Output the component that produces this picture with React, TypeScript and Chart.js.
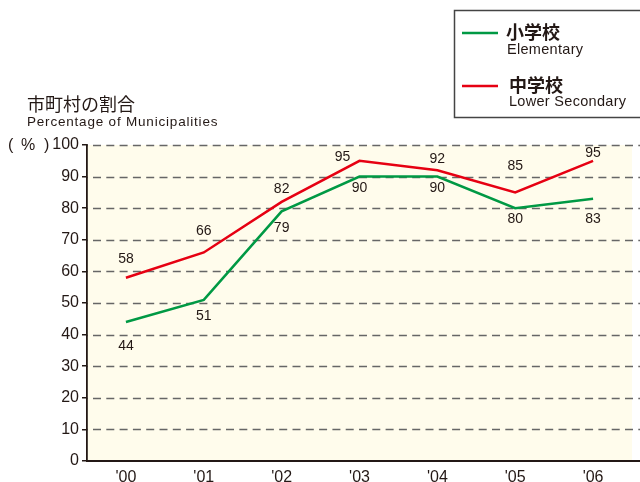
import React, { useEffect, useRef } from "react";
import { Chart, registerables } from "chart.js";

Chart.register(...registerables);

const categories = ["'00", "'01", "'02", "'03", "'04", "'05", "'06"];
const elementary = [44, 51, 79, 90, 90, 80, 83];
const lowerSecondary = [58, 66, 82, 95, 92, 85, 95];
const yTicks = [0, 10, 20, 30, 40, 50, 60, 70, 80, 90, 100];

// label offsets (styling, px relative to each point)
const elemLabelDy = [24, 16, 17, 12, 12, 11, 20];
const secLabelDy = [-19, -21, -13, -4, -11, -26, -8];
const secLabelDx = [0, 0, 0, -17, 0, 0, 0];

const GREEN = "#009944";
const RED = "#e60012";
const INK = "#231815";
const SANS = "'Liberation Sans', Arial, sans-serif";
const CJK = "'Noto Sans CJK JP', sans-serif";

const decorPlugin = {
  id: "decor",
  beforeDraw(chart: any) {
    const { ctx, chartArea } = chart;
    const y = chart.scales.y;
    ctx.save();
    ctx.fillStyle = "#fffcec";
    ctx.fillRect(chartArea.left, chartArea.top, chartArea.right - chartArea.left, chartArea.bottom - chartArea.top);
    // dashed grid lines
    ctx.strokeStyle = "#666";
    ctx.lineWidth = 1.5;
    ctx.setLineDash([8, 5.3]);
    ctx.lineDashOffset = 7.3;
    yTicks.forEach((v) => {
      if (v === 0) return;
      const py = Math.round(y.getPixelForValue(v)) + 0.5;
      ctx.beginPath();
      ctx.moveTo(chartArea.left, py);
      ctx.lineTo(640, py);
      ctx.stroke();
    });
    ctx.setLineDash([]);
    // bottom axis
    ctx.strokeStyle = INK;
    ctx.lineWidth = 1.8;
    ctx.beginPath();
    const by = y.getPixelForValue(0);
    ctx.moveTo(chartArea.left - 1, by);
    ctx.lineTo(640, by);
    ctx.stroke();
    ctx.restore();
  },
  afterDraw(chart: any) {
    const { ctx } = chart;
    const x = chart.scales.x;
    const y = chart.scales.y;
    ctx.save();
    // data labels
    ctx.fillStyle = INK;
    ctx.font = `14px ${SANS}`;
    ctx.textAlign = "center";
    ctx.textBaseline = "middle";
    elementary.forEach((v, i) => {
      ctx.fillText(String(v), x.getPixelForValue(i), y.getPixelForValue(v) + elemLabelDy[i]);
    });
    lowerSecondary.forEach((v, i) => {
      ctx.fillText(String(v), x.getPixelForValue(i) + secLabelDx[i], y.getPixelForValue(v) + secLabelDy[i]);
    });
    // "( % )" unit
    ctx.font = `16px ${SANS}`;
    ctx.textAlign = "left";
    const uy = y.getPixelForValue(100) + 1;
    ctx.fillText("(", 8, uy);
    ctx.fillText("%", 21, uy);
    ctx.fillText(")", 44, uy);
    // titles
    ctx.font = `18px ${CJK}`;
    ctx.fillText("市町村の割合", 27, 104);
    ctx.font = `13.5px ${SANS}`;
    (ctx as any).letterSpacing = "0.8px";
    ctx.fillText("Percentage of Municipalities", 27, 122);
    (ctx as any).letterSpacing = "0px";
    // legend box
    ctx.fillStyle = "#fff";
    ctx.fillRect(454, 10, 200, 107);
    ctx.strokeStyle = "#444";
    ctx.lineWidth = 1.5;
    ctx.strokeRect(454.5, 10.5, 200, 107);
    ctx.lineWidth = 2.5;
    ctx.strokeStyle = GREEN;
    ctx.beginPath();
    ctx.moveTo(462, 33);
    ctx.lineTo(498, 33);
    ctx.stroke();
    ctx.strokeStyle = RED;
    ctx.beginPath();
    ctx.moveTo(462, 86);
    ctx.lineTo(498, 86);
    ctx.stroke();
    ctx.fillStyle = INK;
    ctx.font = `bold 18px ${CJK}`;
    ctx.fillText("小学校", 506, 32);
    ctx.fillText("中学校", 509, 85);
    ctx.font = `14.5px ${SANS}`;
    (ctx as any).letterSpacing = "0.3px";
    ctx.fillText("Elementary", 507, 50);
    ctx.fillText("Lower Secondary", 509, 102);
    (ctx as any).letterSpacing = "0px";
    ctx.restore();
  },
};

export default function App() {
  const ref = useRef<HTMLCanvasElement>(null);
  useEffect(() => {
    if (!ref.current) return;
    const chart = new Chart(ref.current, {
      type: "line",
      data: {
        labels: categories,
        datasets: [
          {
            label: "小学校 Elementary",
            data: elementary,
            borderColor: GREEN,
            borderWidth: 2.5,
            pointRadius: 0,
            tension: 0,
          },
          {
            label: "中学校 Lower Secondary",
            data: lowerSecondary,
            borderColor: RED,
            borderWidth: 2.5,
            pointRadius: 0,
            tension: 0,
          },
        ],
      },
      options: {
        responsive: false,
        animation: false,
        devicePixelRatio: 1,
        layout: { padding: { top: 145, right: 8, left: 0, bottom: 0 } },
        plugins: { legend: { display: false }, tooltip: { enabled: false }, title: { display: false } },
        scales: {
          x: {
            type: "category",
            offset: true,
            grid: { display: false, drawTicks: false },
            border: { display: false },
            ticks: { color: INK, font: { size: 16, family: SANS }, padding: 7, maxRotation: 0 },
            afterFit: (s: any) => {
              s.height = 21;
            },
          },
          y: {
            min: 0,
            max: 100,
            ticks: { stepSize: 10, color: INK, font: { size: 16, family: SANS }, padding: 3 },
            grid: { drawOnChartArea: false, drawTicks: true, tickLength: 5, color: INK, lineWidth: 1.5 },
            border: { display: true, color: INK, width: 1.8 },
            afterFit: (s: any) => {
              s.width = 87;
            },
          },
        },
      },
      plugins: [decorPlugin],
    });
    return () => chart.destroy();
  }, []);
  return (
    <div style={{ position: "fixed", left: 0, top: 0, width: 640, height: 482, background: "#fff" }}>
      <canvas ref={ref} width={640} height={482} style={{ width: 640, height: 482 }} />
    </div>
  );
}
